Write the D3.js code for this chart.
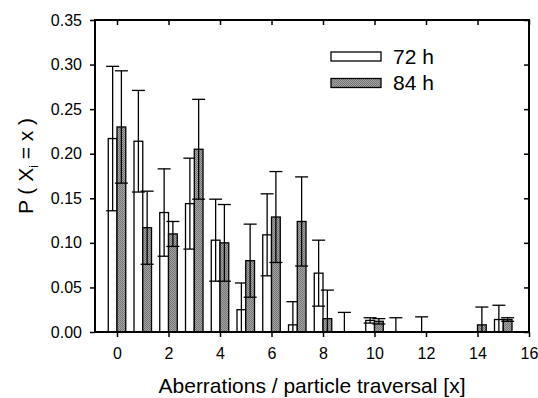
<!DOCTYPE html>
<html>
<head>
<meta charset="utf-8">
<script src="https://cdn.jsdelivr.net/npm/d3@7"></script>
<style>
  body { margin: 0; background: #fff; }
  text { font-family: "Liberation Sans", Arial, sans-serif; fill: #000; }
  .frame { fill: none; stroke: #000; stroke-width: 2; }
  .bar { stroke: #000; stroke-width: 1.3; }
  .err { stroke: #000; stroke-width: 1.3; fill: none; }
</style>
</head>
<body>
<div id="chart"></div>
<script>
var categories = [0, 1, 2, 3, 4, 5, 6, 7, 8, 9, 10, 11, 12, 13, 14, 15]
var series_names = ["72 h", "84 h"]
var values_72 = [0.217, 0.214, 0.134, 0.144, 0.103, 0.025, 0.109, 0.008, 0.066, 0, 0.013, 0, 0, 0, 0, 0.014]
var errors_72 = [0.081, 0.057, 0.049, 0.051, 0.046, 0.030, 0.046, 0.026, 0.037, 0.022, 0.003, 0.016, 0.017, 0, 0, 0.016]
var values_84 = [0.230, 0.117, 0.110, 0.205, 0.100, 0.080, 0.129, 0.124, 0.015, 0, 0.012, 0, 0, 0, 0.008, 0.014]
var errors_84 = [0.063, 0.041, 0.014, 0.056, 0.043, 0.041, 0.051, 0.050, 0.032, 0, 0.003, 0, 0, 0, 0.020, 0.002]
var x_ticks = [0, 2, 4, 6, 8, 10, 12, 14, 16]
var y_ticks = [0, 0.05, 0.10, 0.15, 0.20, 0.25, 0.30, 0.35]

var width = 538, height = 398
var m_left = 95, m_right = 529, m_top = 20, m_bottom = 332
var bar_w = 0.34,
    cap_half = 6.5

var svg = d3.select("#chart").append("svg")
  .attr("width", width)
  .attr("height", height)

// Stippled grey fill for the 84 h bars.
var pat = svg.append("defs").append("pattern")
  .attr("id", "stipple")
  .attr("width", 2)
  .attr("height", 2)
  .attr("patternUnits", "userSpaceOnUse")
pat.append("rect").attr("width", 2).attr("height", 2).attr("fill", "#a4a4a4")
pat.append("rect").attr("width", 1).attr("height", 1).attr("fill", "#767676")
pat.append("rect").attr("x", 1).attr("y", 1).attr("width", 1).attr("height", 1).attr("fill", "#767676")

var x = d3.scaleLinear().domain([-0.855, 16]).range([m_left, m_right])
var y = d3.scaleLinear().domain([0, 0.35]).range([m_bottom, m_top])

var series = [
  { name: series_names[0], values: values_72, errors: errors_72, offset: -bar_w, fill: "#fff" },
  { name: series_names[1], values: values_84, errors: errors_84, offset: 0, fill: "url(#stipple)" }
]

var plot = svg.append("g")

series.forEach(function (s) {
  var rows = categories.map(function (c, i) {
    return { c: c, v: s.values[i], e: s.errors[i] }
  })

  plot.selectAll(null).data(rows).enter().append("rect")
    .attr("class", "bar")
    .attr("fill", s.fill)
    .attr("x", function (d) { return x(d.c + s.offset) })
    .attr("width", x(bar_w) - x(0))
    .attr("y", function (d) { return y(d.v) })
    .attr("height", function (d) { return y(0) - y(d.v) })

  // Error bars: vertical line, cap on top, cap at bottom if above zero.
  var eb = plot.selectAll(null).data(rows.filter(function (d) { return d.e > 0 }))
    .enter().append("g")
  eb.append("line")
    .attr("class", "err")
    .attr("x1", function (d) { return x(d.c + s.offset + bar_w / 2) })
    .attr("x2", function (d) { return x(d.c + s.offset + bar_w / 2) })
    .attr("y1", function (d) { return y(Math.max(0, d.v - d.e)) })
    .attr("y2", function (d) { return y(d.v + d.e) })
  eb.append("line")
    .attr("class", "err")
    .attr("x1", function (d) { return x(d.c + s.offset + bar_w / 2) - cap_half })
    .attr("x2", function (d) { return x(d.c + s.offset + bar_w / 2) + cap_half })
    .attr("y1", function (d) { return y(d.v + d.e) })
    .attr("y2", function (d) { return y(d.v + d.e) })
  eb.filter(function (d) { return d.v - d.e > 0 }).append("line")
    .attr("class", "err")
    .attr("x1", function (d) { return x(d.c + s.offset + bar_w / 2) - cap_half })
    .attr("x2", function (d) { return x(d.c + s.offset + bar_w / 2) + cap_half })
    .attr("y1", function (d) { return y(d.v - d.e) })
    .attr("y2", function (d) { return y(d.v - d.e) })
})

// Axes
var fmt = d3.format(".2f")
var ax_bottom = svg.append("g")
  .attr("transform", "translate(0," + m_bottom + ")")
  .call(d3.axisBottom(x).tickValues(x_ticks).tickSize(5).tickPadding(11).tickFormat(d3.format("d")))
var ax_left = svg.append("g")
  .attr("transform", "translate(" + m_left + ",0)")
  .call(d3.axisLeft(y).tickValues(y_ticks).tickSize(5).tickPadding(8).tickFormat(fmt))
var ax_top = svg.append("g")
  .attr("transform", "translate(0," + m_top + ")")
  .call(d3.axisTop(x).tickValues(x_ticks).tickSize(-5).tickFormat(""))
var ax_right = svg.append("g")
  .attr("transform", "translate(" + m_right + ",0)")
  .call(d3.axisRight(y).tickValues(y_ticks).tickSize(-5).tickFormat(""))

;[ax_bottom, ax_left, ax_top, ax_right].forEach(function (a) {
  a.attr("font-size", null).attr("font-family", null)
  a.select(".domain").remove()
  a.selectAll("line").attr("stroke", "#000").attr("stroke-width", 1.5)
  a.selectAll("text")
    .style("font-size", "16px")
    .attr("fill", "#000")
})

svg.append("rect")
  .attr("class", "frame")
  .attr("x", m_left)
  .attr("y", m_top)
  .attr("width", m_right - m_left)
  .attr("height", m_bottom - m_top)

// Legend
var legend = svg.append("g")
series.forEach(function (s, i) {
  legend.append("rect")
    .attr("class", "bar")
    .attr("fill", s.fill)
    .attr("x", 331)
    .attr("y", 52 + i * 26.5)
    .attr("width", 50)
    .attr("height", 9)
  legend.append("text")
    .attr("x", 393)
    .attr("y", 56.5 + i * 26.5)
    .attr("dy", "0.35em")
    .style("font-size", "21px")
    .text(s.name)
})

// Axis titles
svg.append("text")
  .attr("x", (m_left + m_right) / 2)
  .attr("y", 393)
  .attr("text-anchor", "middle")
  .style("font-size", "21px")
  .text("Aberrations / particle traversal [x]")

var ytitle = svg.append("text")
  .attr("transform", "translate(33,166) rotate(-90)")
  .attr("text-anchor", "middle")
  .style("font-size", "21px")
ytitle.append("tspan").text("P ( X")
ytitle.append("tspan").attr("dy", 5).style("font-size", "12px").text("i")
ytitle.append("tspan").attr("dy", -5).text(" = x )")
</script>
</body>
</html>
